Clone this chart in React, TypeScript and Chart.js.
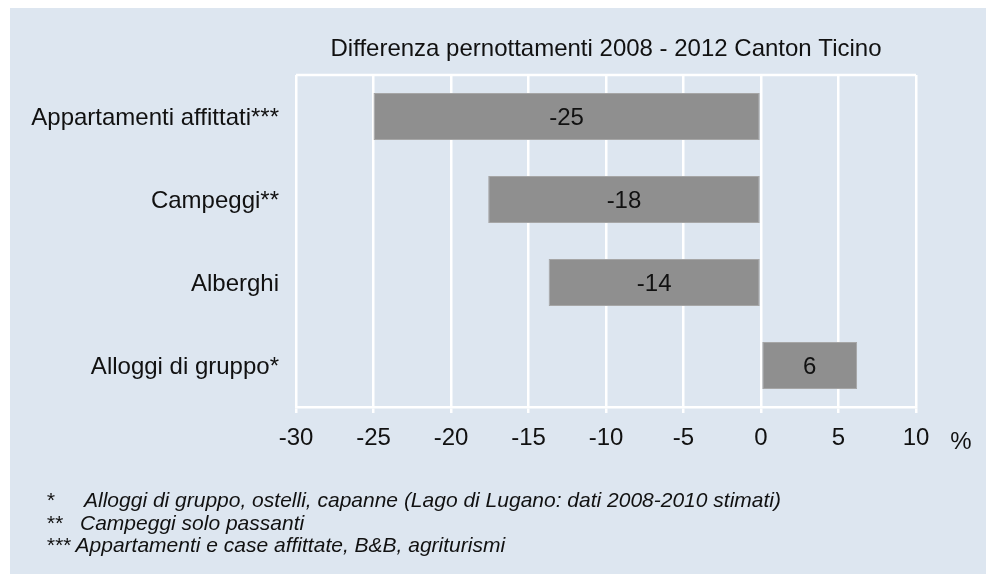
import React, { useEffect, useRef } from 'react';
import { Chart, registerables } from 'chart.js';

Chart.register(...registerables);

const title = 'Differenza pernottamenti 2008 - 2012 Canton Ticino';
const categories = ['Appartamenti affittati***', 'Campeggi**', 'Alberghi', 'Alloggi di gruppo*'];
const values = [-25.0, -17.6, -13.7, 6.2];
const xTicks = [-30, -25, -20, -15, -10, -5, 0, 5, 10];
const unitLabel = '%';
const footMarks = ['*', '**', '***'];
const footTexts = [
  'Alloggi di gruppo, ostelli, capanne (Lago di Lugano: dati 2008-2010 stimati)',
  'Campeggi solo passanti',
  'Appartamenti e case affittate, B&B, agriturismi',
];

const FONT = '"Liberation Sans", Arial, Helvetica, sans-serif';
const BG = '#dde6f0';

const overlay = {
  id: 'overlay',
  afterDraw(chart: any) {
    const { ctx, chartArea } = chart;
    ctx.save();
    // top border of plot box
    ctx.strokeStyle = '#ffffff';
    ctx.lineWidth = 2.5;
    ctx.beginPath();
    ctx.moveTo(chartArea.left, chartArea.top);
    ctx.lineTo(chartArea.right, chartArea.top);
    ctx.stroke();
    // title
    ctx.fillStyle = '#111111';
    ctx.font = `24px ${FONT}`;
    ctx.textAlign = 'center';
    ctx.textBaseline = 'middle';
    ctx.fillText(title, (chartArea.left + chartArea.right) / 2, chartArea.top - 26);
    // unit
    ctx.fillText(unitLabel, chartArea.right + 45, chartArea.bottom + 35);
    // value labels
    const meta = chart.getDatasetMeta(0);
    meta.data.forEach((el: any, i: number) => {
      const v = chart.data.datasets[0].data[i] as number;
      const cx = (el.x + el.base) / 2;
      ctx.fillText(String(Math.round(v)), cx, el.y + 2);
    });
    ctx.restore();
  },
};

export default function App() {
  const ref = useRef<HTMLCanvasElement>(null);
  useEffect(() => {
    if (!ref.current) return;
    const chart = new Chart(ref.current, {
      type: 'bar',
      data: {
        labels: categories,
        datasets: [
          {
            data: values,
            backgroundColor: '#8f8f8f',
            borderColor: '#a6a6a6',
            borderWidth: 1,
            borderSkipped: false,
            barPercentage: 0.566,
            categoryPercentage: 1,
          },
        ],
      },
      options: {
        indexAxis: 'y',
        responsive: false,
        animation: false,
        devicePixelRatio: 1,
        layout: { padding: { top: 67, right: 70, bottom: 0, left: 0 } },
        plugins: {
          legend: { display: false },
          tooltip: { enabled: false },
          title: { display: false },
        },
        scales: {
          x: {
            type: 'linear',
            min: -30,
            max: 10,
            afterBuildTicks: (s: any) => {
              s.ticks = xTicks.map((v) => ({ value: v }));
            },
            ticks: {
              color: '#111111',
              font: { family: FONT, size: 24 },
              padding: 11,
              maxRotation: 0,
            },
            grid: {
              color: '#ffffff',
              lineWidth: 2.5,
              tickLength: 6,
              drawTicks: true,
            },
            border: { color: '#ffffff', width: 2.5 },
            afterFit: (s: any) => {
              s.height = 566 - 67 - 332;
            },
          },
          y: {
            type: 'category',
            ticks: {
              color: '#111111',
              font: { family: FONT, size: 24 },
              padding: 9,
              labelOffset: 2,
            },
            grid: { display: false },
            border: { display: false },
            afterFit: (s: any) => {
              s.width = 286;
            },
          },
        },
      },
      plugins: [overlay],
    });
    return () => chart.destroy();
  }, []);

  const noteTop = [481, 503.5, 526];
  const textLeft = [74, 70, 70];

  return (
    <div
      style={{
        position: 'fixed',
        left: 10,
        top: 8,
        width: 976,
        height: 566,
        background: BG,
        overflow: 'hidden',
      }}
    >
      <canvas ref={ref} width={976} height={566} style={{ display: 'block' }} />
      {footTexts.map((t, i) => (
        <div
          key={i}
          style={{
            position: 'absolute',
            top: noteTop[i],
            left: 36,
            fontFamily: FONT,
            fontStyle: 'italic',
            fontSize: 21,
            lineHeight: '22px',
            color: '#111111',
            whiteSpace: 'nowrap',
          }}
        >
          {i < 2 ? (
            <>
              <span>{footMarks[i]}</span>
              <span style={{ position: 'absolute', left: textLeft[i] - 36, top: 0 }}>{t}</span>
            </>
          ) : (
            <span>{footMarks[i] + ' ' + t}</span>
          )}
        </div>
      ))}
    </div>
  );
}
